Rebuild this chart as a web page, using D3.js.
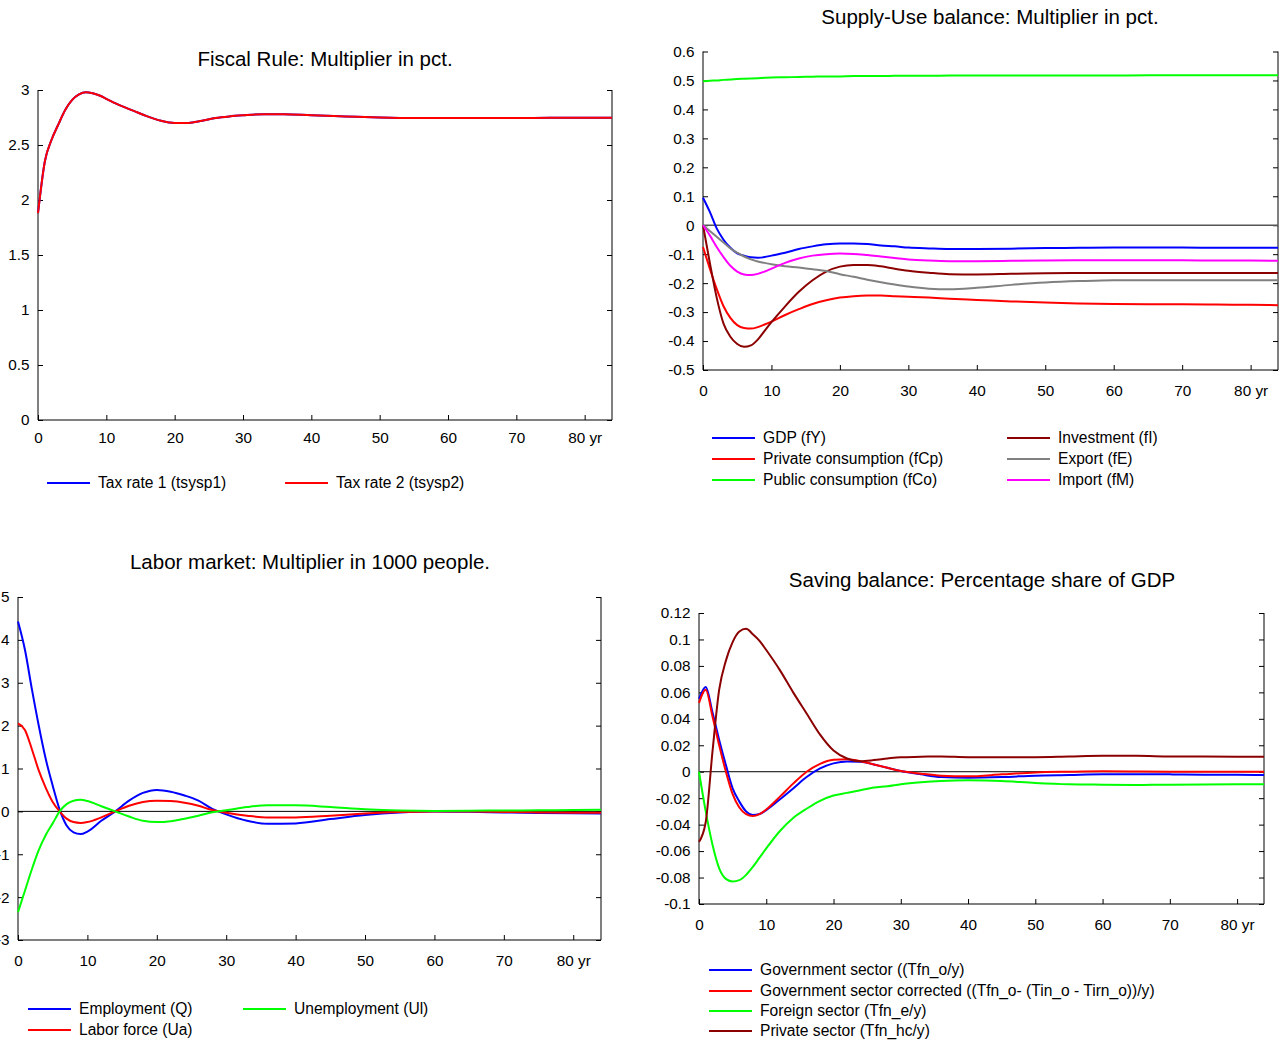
<!DOCTYPE html>
<html>
<head>
<meta charset="utf-8">
<script src="https://cdn.jsdelivr.net/npm/d3@7"></script>
<style>
  body { margin: 0; background: #fff; }
  text { font-family: "Liberation Sans", Arial, Helvetica, sans-serif; fill: #000; }
</style>
</head>
<body>
<script>
// years on the horizontal axis (same grid for all four panels)
const years = [0,1,2,3,4,5,6,7,8,9,10,12,14,16,18,20,22,24,26,28,30,33,36,40,45,50,55,60,65,70,75,80,84];
const xTicks = [0,10,20,30,40,50,60,70,80];

// Fiscal rule
const taxRate1 = [1.88,2.35,2.55,2.69,2.82,2.91,2.96,2.98,2.97,2.95,2.92,2.86,2.81,2.76,2.72,2.70,2.70,2.72,2.745,2.76,2.77,2.78,2.78,2.77,2.76,2.75,2.745,2.745,2.745,2.745,2.748,2.748,2.748];
const taxRate2 = [1.88,2.35,2.55,2.69,2.82,2.91,2.96,2.98,2.97,2.95,2.92,2.86,2.81,2.76,2.72,2.70,2.70,2.72,2.745,2.76,2.77,2.78,2.78,2.77,2.76,2.75,2.745,2.745,2.745,2.745,2.748,2.748,2.748];
const fiscalTicks = [0,0.5,1,1.5,2,2.5,3];

// Supply-use balance
const gdp = [0.095,0.046,-0.011,-0.05,-0.078,-0.097,-0.105,-0.111,-0.112,-0.11,-0.105,-0.095,-0.082,-0.073,-0.066,-0.063,-0.063,-0.065,-0.07,-0.073,-0.077,-0.08,-0.082,-0.082,-0.081,-0.079,-0.078,-0.077,-0.077,-0.077,-0.078,-0.078,-0.078];
const privCons = [-0.075,-0.15,-0.22,-0.28,-0.32,-0.345,-0.355,-0.357,-0.352,-0.343,-0.333,-0.31,-0.29,-0.272,-0.259,-0.25,-0.245,-0.243,-0.243,-0.245,-0.247,-0.25,-0.254,-0.258,-0.263,-0.267,-0.27,-0.272,-0.273,-0.273,-0.274,-0.275,-0.276];
const pubCons = [0.497,0.499,0.5,0.502,0.503,0.505,0.506,0.507,0.508,0.509,0.51,0.511,0.512,0.513,0.514,0.514,0.515,0.515,0.515,0.516,0.516,0.516,0.517,0.517,0.517,0.517,0.517,0.517,0.518,0.518,0.518,0.518,0.518];
const investment = [0,-0.13,-0.25,-0.34,-0.385,-0.41,-0.42,-0.415,-0.395,-0.365,-0.335,-0.28,-0.23,-0.19,-0.16,-0.143,-0.137,-0.137,-0.142,-0.15,-0.157,-0.164,-0.169,-0.17,-0.168,-0.166,-0.165,-0.165,-0.165,-0.165,-0.165,-0.165,-0.165];
const exports = [0,-0.02,-0.04,-0.06,-0.08,-0.095,-0.108,-0.118,-0.125,-0.13,-0.135,-0.142,-0.146,-0.152,-0.158,-0.169,-0.178,-0.188,-0.197,-0.205,-0.212,-0.219,-0.221,-0.216,-0.206,-0.198,-0.193,-0.19,-0.19,-0.19,-0.19,-0.19,-0.19];
const imports = [0,-0.035,-0.075,-0.11,-0.14,-0.16,-0.17,-0.172,-0.168,-0.16,-0.15,-0.13,-0.115,-0.105,-0.1,-0.098,-0.099,-0.103,-0.108,-0.113,-0.118,-0.122,-0.124,-0.124,-0.123,-0.122,-0.121,-0.121,-0.121,-0.121,-0.122,-0.122,-0.123];
const supplyTicks = [-0.5,-0.4,-0.3,-0.2,-0.1,0,0.1,0.2,0.3,0.4,0.5,0.6];

// Labor market
const employment = [4.43,3.77,2.85,1.99,1.22,0.6,0.04,-0.33,-0.49,-0.53,-0.47,-0.22,0.0,0.25,0.43,0.5,0.46,0.37,0.25,0.06,-0.07,-0.22,-0.29,-0.28,-0.18,-0.085,-0.025,0,-0.01,-0.025,-0.04,-0.045,-0.05];
const laborForce = [2.05,1.9,1.45,0.95,0.55,0.22,0.0,-0.17,-0.25,-0.27,-0.25,-0.14,0.0,0.13,0.22,0.25,0.24,0.2,0.13,0.03,-0.03,-0.1,-0.14,-0.14,-0.1,-0.05,-0.015,0,-0.005,-0.015,-0.025,-0.03,-0.03];
const unemployment = [-2.35,-1.85,-1.35,-0.9,-0.55,-0.28,0.0,0.17,0.25,0.27,0.24,0.12,0.0,-0.12,-0.22,-0.25,-0.23,-0.17,-0.1,-0.02,0.025,0.1,0.14,0.14,0.1,0.05,0.02,0.01,0.015,0.02,0.025,0.03,0.035];
const laborTicks = [-3,-2,-1,0,1,2,3,4,5];

// Saving balance
const govSector = [0.055,0.064,0.045,0.024,0.005,-0.0126,-0.0226,-0.030,-0.0327,-0.032,-0.029,-0.021,-0.0126,-0.004,0.0025,0.0063,0.0078,0.0075,0.0055,0.003,0.0005,-0.002,-0.004,-0.0045,-0.004,-0.003,-0.0025,-0.002,-0.002,-0.002,-0.0022,-0.0022,-0.0025];
const govCorrected = [0.052,0.062,0.042,0.02,0.0,-0.017,-0.027,-0.032,-0.0335,-0.032,-0.0285,-0.019,-0.009,0.0,0.006,0.009,0.0095,0.008,0.0055,0.003,0.0005,-0.0015,-0.003,-0.0035,-0.002,-0.0005,0.0,0.0003,0.0002,0.0,0.0,0.0,0.0];
const foreignSector = [0,-0.03,-0.055,-0.073,-0.081,-0.083,-0.082,-0.078,-0.072,-0.065,-0.058,-0.045,-0.035,-0.028,-0.022,-0.018,-0.016,-0.014,-0.012,-0.011,-0.0095,-0.008,-0.007,-0.0065,-0.007,-0.0085,-0.0095,-0.0098,-0.01,-0.0098,-0.0096,-0.0095,-0.0095];
const privateSector = [-0.053,-0.038,0.015,0.062,0.084,0.098,0.106,0.108,0.104,0.099,0.092,0.077,0.06,0.044,0.028,0.016,0.01,0.008,0.0088,0.01,0.011,0.0113,0.0116,0.011,0.011,0.011,0.0115,0.012,0.012,0.0116,0.0115,0.0113,0.0113];
const savingTicks = [-0.1,-0.08,-0.06,-0.04,-0.02,0,0.02,0.04,0.06,0.08,0.1,0.12];

const svg = d3.select('body').append('svg')
    .attr('width', 1280)
    .attr('height', 1042);

function drawPanel(p) {
    const x = d3.scaleLinear().domain([0, 84]).range([p.left, p.right]);
    const y = d3.scaleLinear().domain(p.yDomain).range([p.bottom, p.top]);
    const g = svg.append('g');

    // title
    g.append('text')
        .text(p.title)
        .attr('x', p.titleX)
        .attr('y', p.titleY)
        .attr('dy', '0.35em')
        .attr('text-anchor', 'middle')
        .style('font-size', '20.5px');

    // left axis, ticks pointing inward
    const yAxis = d3.axisLeft(y).tickValues(p.yTicks).tickSize(-5).tickPadding(8.5)
        .tickFormat(d => String(+d.toFixed(3)));
    g.append('g').attr('transform', `translate(${p.left},0)`).call(yAxis)
        .call(a => a.select('.domain').attr('d', `M0,${p.top}V${p.bottom}`))
        .call(a => a.selectAll('text').style('font-size', '15.3px').attr('font-family', null));

    // right mirror axis
    const yAxisR = d3.axisRight(y).tickValues(p.yTicks).tickSize(-5).tickFormat('');
    g.append('g').attr('transform', `translate(${p.right},0)`).call(yAxisR)
        .call(a => a.select('.domain').attr('d', `M0,${p.top}V${p.bottom}`));

    // bottom axis
    const xAxis = d3.axisBottom(x).tickValues(xTicks).tickSize(-5).tickPadding(p.xPad || 13)
        .tickFormat(d => d === 80 ? '80 yr' : String(d));
    g.append('g').attr('transform', `translate(0,${p.bottom})`).call(xAxis)
        .call(a => a.select('.domain').attr('d', `M${p.left},0H${p.right}`))
        .call(a => a.selectAll('text').style('font-size', '15.3px').attr('font-family', null));

    // zero line
    if (p.zeroLine) {
        g.append('line')
            .attr('x1', p.left).attr('x2', p.right)
            .attr('y1', y(0)).attr('y2', y(0))
            .attr('stroke', p.zeroColor || '#000')
            .attr('stroke-width', p.zeroWidth || 1);
    }

    const line = d3.line()
        .x((d, i) => x(years[i]))
        .y(d => y(d))
        .curve(d3.curveMonotoneX);

    p.series.forEach(s => {
        g.append('path')
            .attr('d', line(s.values))
            .attr('fill', 'none')
            .attr('stroke', s.color)
            .attr('stroke-width', 2);
    });

    // legend
    p.series.forEach(s => {
        const lg = g.append('g').attr('transform', `translate(${s.lx},${s.ly})`);
        lg.append('line').attr('x1', 0).attr('x2', 43).attr('y1', 0).attr('y2', 0)
            .attr('stroke', s.color).attr('stroke-width', 2);
        lg.append('text').text(s.name).attr('x', 51).attr('dy', '0.35em')
            .style('font-size', '15.6px');
    });
}

drawPanel({
    title: 'Fiscal Rule: Multiplier in pct.', titleX: 325, titleY: 59,
    left: 38, right: 612, top: 90, bottom: 420, xPad: 12,
    yDomain: [0, 3], yTicks: fiscalTicks,
    series: [
        {name: 'Tax rate 1 (tsysp1)', color: '#0000ff', values: taxRate1, lx: 47, ly: 483},
        {name: 'Tax rate 2 (tsysp2)', color: '#ff0000', values: taxRate2, lx: 285, ly: 483}
    ]
});

drawPanel({
    title: 'Supply-Use balance: Multiplier in pct.', titleX: 990, titleY: 17,
    left: 703, right: 1278, top: 51.5, bottom: 370, xPad: 15,
    yDomain: [-0.5, 0.6], yTicks: supplyTicks,
    zeroLine: true, zeroColor: '#555', zeroWidth: 1.5,
    series: [
        {name: 'GDP (fY)', color: '#0000ff', values: gdp, lx: 712, ly: 438},
        {name: 'Private consumption (fCp)', color: '#ff0000', values: privCons, lx: 712, ly: 459},
        {name: 'Public consumption (fCo)', color: '#00ff00', values: pubCons, lx: 712, ly: 480},
        {name: 'Investment (fI)', color: '#8b0000', values: investment, lx: 1007, ly: 438},
        {name: 'Export (fE)', color: '#808080', values: exports, lx: 1007, ly: 459},
        {name: 'Import (fM)', color: '#ff00ff', values: imports, lx: 1007, ly: 480}
    ]
});

drawPanel({
    title: 'Labor market: Multiplier in 1000 people.', titleX: 310, titleY: 562,
    left: 18, right: 601, top: 597, bottom: 940, xPad: 15,
    yDomain: [-3, 5], yTicks: laborTicks,
    zeroLine: true,
    series: [
        {name: 'Employment (Q)', color: '#0000ff', values: employment, lx: 28, ly: 1009},
        {name: 'Labor force (Ua)', color: '#ff0000', values: laborForce, lx: 28, ly: 1030},
        {name: 'Unemployment (Ul)', color: '#00ff00', values: unemployment, lx: 243, ly: 1009}
    ]
});

drawPanel({
    title: 'Saving balance: Percentage share of GDP', titleX: 982, titleY: 580,
    left: 699, right: 1264, top: 613, bottom: 904, xPad: 15,
    yDomain: [-0.1, 0.12], yTicks: savingTicks,
    zeroLine: true,
    series: [
        {name: 'Government sector ((Tfn_o/y)', color: '#0000ff', values: govSector, lx: 709, ly: 970},
        {name: 'Government sector corrected ((Tfn_o- (Tin_o - Tirn_o))/y)', color: '#ff0000', values: govCorrected, lx: 709, ly: 991},
        {name: 'Foreign sector (Tfn_e/y)', color: '#00ff00', values: foreignSector, lx: 709, ly: 1011},
        {name: 'Private sector (Tfn_hc/y)', color: '#8b0000', values: privateSector, lx: 709, ly: 1031}
    ]
});
</script>
</body>
</html>
